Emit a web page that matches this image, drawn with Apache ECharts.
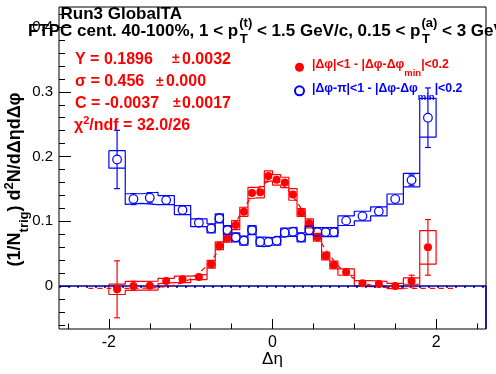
<!DOCTYPE html>
<html><head><meta charset="utf-8">
<script src="https://cdn.jsdelivr.net/npm/echarts@6/dist/echarts.min.js"></script>
<style>html,body{margin:0;padding:0;background:#fff}#c{width:496px;height:374px}</style>
</head><body><div id="c"></div>
<script>
// ---- data ----
const binEdges = [-2.0,-1.8,-1.6,-1.4,-1.2,-1.0,-0.8,-0.7,-0.6,-0.5,-0.4,-0.3,-0.2,-0.1,0.0,0.1,0.2,0.3,0.4,0.5,0.6,0.7,0.8,1.0,1.2,1.4,1.6,1.8,2.0];
const binCenters = [-1.9,-1.7,-1.5,-1.3,-1.1,-0.9,-0.75,-0.65,-0.55,-0.45,-0.35,-0.25,-0.15,-0.05,0.05,0.15,0.25,0.35,0.45,0.55,0.65,0.75,0.9,1.1,1.3,1.5,1.7,1.9];

const nearValues = [-0.0051,0.0002,0.0005,0.0077,0.0103,0.0139,0.0336,0.0622,0.0736,0.0941,0.1147,0.1435,0.1450,0.1700,0.1640,0.1600,0.1415,0.1137,0.0968,0.0752,0.0463,0.0324,0.0216,0.0042,0.0031,0.0000,0.0077,0.0597];
const nearStatErr = [0.044,0.007,0.006,0.005,0.005,0.005,0.004,0.004,0.004,0.004,0.004,0.004,0.004,0.004,0.004,0.004,0.004,0.004,0.004,0.004,0.004,0.004,0.005,0.005,0.005,0.005,0.009,0.043];
const nearSysErr = [0.008,0.007,0.007,0.004,0.005,0.004,0.006,0.006,0.006,0.007,0.007,0.009,0.009,0.008,0.008,0.008,0.009,0.006,0.007,0.006,0.006,0.006,0.005,0.004,0.004,0.004,0.005,0.026];

const awayValues = [0.1955,0.1343,0.1363,0.1327,0.1173,0.0977,0.0890,0.1045,0.0864,0.0752,0.0700,0.0864,0.0684,0.0679,0.0700,0.0823,0.0838,0.0752,0.0864,0.0833,0.0833,0.0833,0.1010,0.1080,0.1153,0.1343,0.1636,0.2600];
const awayStatErr = [0.045,0.0085,0.008,0.006,0.006,0.005,0.0045,0.0045,0.0045,0.0045,0.0045,0.0045,0.0045,0.0045,0.0045,0.0045,0.0045,0.0045,0.0045,0.0045,0.0045,0.0045,0.005,0.006,0.006,0.007,0.008,0.046];
const awaySysErr = [0.0135,0.0082,0.0085,0.007,0.007,0.006,0.007,0.007,0.007,0.007,0.007,0.007,0.007,0.007,0.007,0.007,0.007,0.007,0.007,0.007,0.007,0.007,0.0075,0.0075,0.007,0.0078,0.0104,0.030];

// red dashed fit curve
const fitX = [-2.25,-2.0,-1.8,-1.6,-1.5,-1.4,-1.3,-1.2,-1.1,-1.0,-0.9,-0.8,-0.7,-0.6,-0.5,-0.4,-0.3,-0.2,-0.1,0.0,0.1,0.2,0.3,0.4,0.5,0.6,0.7,0.8,0.9,1.0,1.1,1.2,1.3,1.4,1.5,1.6,1.8,2.0,2.25];
const fitY = [-0.0037,-0.0037,-0.0036,-0.0034,-0.0030,-0.0022,-0.0009,0.0015,0.0053,0.0113,0.0200,0.0319,0.0474,0.0661,0.0872,0.1092,0.1299,0.1470,0.1583,0.1622,0.1583,0.1470,0.1299,0.1092,0.0872,0.0661,0.0474,0.0319,0.0200,0.0113,0.0053,0.0015,-0.0009,-0.0022,-0.0030,-0.0034,-0.0036,-0.0037,-0.0037];
const awayFitLevel = -0.0012;

const xTickLabels = [-2, 0, 2];
const xMinorTicks = [-2.5,-1.5,-1,-0.5,0.5,1,1.5,2.5];
const yTickLabels = [0, 0.1, 0.2, 0.3, 0.4];
const yMinorTicks = [-0.06,-0.04,-0.02,0.02,0.04,0.06,0.08,0.12,0.14,0.16,0.18,0.22,0.24,0.26,0.28,0.32,0.34,0.36,0.38,0.42];

const nearName = 'near-side';
const awayName = 'away-side';

// ---- styling / layout ----
const F = '"Liberation Sans", Arial, Helvetica, sans-serif';
const bf = s => 'bold ' + s + 'px ' + F;
const nf = s => s + 'px ' + F;
const RED = '#ff0000', BLUE = '#0000ff', NAVY = '#00009c';
const XMIN = -2.61, XMAX = 2.61, YMIN = -0.0664, YMAX = 0.431;

const mctx = document.createElement('canvas').getContext('2d');
function tw(t, font) { mctx.font = font; return mctx.measureText(t).width; }

function sysOutline(vals, sys) {
  const up = [], lo = [];
  for (let i = 0; i < vals.length; i++) {
    up.push([binEdges[i], vals[i] + sys[i]], [binEdges[i + 1], vals[i] + sys[i]]);
    lo.push([binEdges[i], vals[i] - sys[i]], [binEdges[i + 1], vals[i] - sys[i]]);
  }
  return up.concat(lo.reverse(), [up[0]]);
}

function errBarSeries(vals, errs, color, r) {
  return {
    type: 'custom', z: 4, silent: true,
    data: binCenters.map((x, i) => [x, vals[i], errs[i]]),
    renderItem: function (params, api) {
      const x = api.value(0), y = api.value(1), e = api.value(2);
      const c = api.coord([x, y]), t = api.coord([x, y + e]), b = api.coord([x, y - e]);
      const kids = [];
      const st = { stroke: color, lineWidth: 1.2 };
      if (c[1] - t[1] > r + 0.5) {
        kids.push({ type: 'line', shape: { x1: c[0], y1: c[1] - r, x2: c[0], y2: t[1] }, style: st });
        kids.push({ type: 'line', shape: { x1: c[0] - 3, y1: t[1], x2: c[0] + 3, y2: t[1] }, style: st });
      }
      if (b[1] - c[1] > r + 0.5) {
        kids.push({ type: 'line', shape: { x1: c[0], y1: c[1] + r, x2: c[0], y2: b[1] }, style: st });
        kids.push({ type: 'line', shape: { x1: c[0] - 3, y1: b[1], x2: c[0] + 3, y2: b[1] }, style: st });
      }
      return { type: 'group', children: kids };
    }
  };
}

const graphics = [];
function addText(x, y, text, font, color, extra) {
  graphics.push(Object.assign({
    type: 'text', x: x, y: y, silent: true, z: 100,
    style: { text: text, font: font, fill: color, align: 'left', verticalAlign: 'middle' }
  }, extra || {}));
}

// header
addText(60.5, 14.5, 'Run3 GlobalTA', bf(17), '#000');
(function () {
  const mainF = bf(17), ssF = bf(13);
  const parts = [['FTPC cent. 40-100%, 1 < p', ['(t)', 'T']], [' < 1.5 GeV/c, 0.15 < p', ['(a)', 'T']], [' < 3 GeV/c', null]];
  let x = 28;
  parts.forEach(p => {
    addText(x, 31.7, p[0], mainF, '#000');
    x += tw(p[0], mainF);
    if (p[1]) {
      addText(x + 1, 23, p[1][0], ssF, '#000');
      addText(x + 1.5, 39.3, p[1][1], ssF, '#000');
      x += 1 + Math.max(tw(p[1][0], ssF), tw(p[1][1], ssF));
    }
  });
})();

// fit results
const fitF = bf(16), pmF = bf(14);
addText(75, 59.5, 'Y = 0.1896', fitF, RED); addText(172, 59.5, '±', pmF, RED); addText(182, 59.5, '0.0032', fitF, RED);
addText(75, 81.7, 'σ = 0.456', fitF, RED); addText(156, 81.7, '±', pmF, RED); addText(166, 81.7, '0.000', fitF, RED);
addText(75, 103.3, 'C = -0.0037', fitF, RED); addText(173, 103.3, '±', pmF, RED); addText(182, 103.3, '0.0017', fitF, RED);
graphics.push({
  type: 'text', x: 74, y: 126, silent: true, z: 100,
  style: {
    text: '{a|χ}{s|2}{a|/ndf = 32.0/26}', fill: RED, align: 'left', verticalAlign: 'middle',
    rich: { a: { font: fitF, fill: RED, lineHeight: 17 }, s: { font: bf(11), fill: RED, lineHeight: 11, padding: [0, 0, 10, 0] } }
  }
});

// axis titles
graphics.push({
  type: 'text', x: 15.5, y: 179.5, rotation: Math.PI / 2, silent: true, z: 100,
  style: {
    text: '{a|(1/N}{b|trig}{a|) d}{c|2}{a|N/dΔηdΔφ}', fill: '#000', align: 'center', verticalAlign: 'middle',
    rich: {
      a: { font: bf(18), fill: '#000', lineHeight: 19 },
      b: { font: bf(13), fill: '#000', lineHeight: 13, padding: [18, 0, 0, 0] },
      c: { font: bf(13), fill: '#000', lineHeight: 13, padding: [0, 0, 12, 0] }
    }
  }
});
graphics.push({
  type: 'text', x: 272.5, y: 359, silent: true, z: 100,
  style: { text: 'Δη', font: nf(17), fill: '#000', align: 'center', verticalAlign: 'middle' }
});

const chart = echarts.init(document.getElementById('c'), null, { renderer: 'canvas' });
chart.setOption({
  animation: false,
  backgroundColor: '#fff',
  grid: { left: 59, right: 10, top: 7, bottom: 45, show: true, borderColor: '#000', borderWidth: 1, containLabel: false },
  xAxis: [
    {
      type: 'value', position: 'bottom', min: XMIN, max: XMAX,
      axisLine: { show: false, onZero: false }, splitLine: { show: false },
      axisTick: { show: true, inside: true, length: 10, customValues: xTickLabels, lineStyle: { color: '#000', width: 1 } },
      axisLabel: { show: true, customValues: xTickLabels, margin: 6, color: '#000', fontSize: 16, fontFamily: F }
    },
    {
      type: 'value', position: 'bottom', min: XMIN, max: XMAX,
      axisLine: { show: false, onZero: false }, splitLine: { show: false }, axisLabel: { show: false },
      axisTick: { show: true, inside: true, length: 5.5, customValues: xMinorTicks, lineStyle: { color: '#000', width: 1 } }
    }
  ],
  yAxis: [
    {
      type: 'value', position: 'left', min: YMIN, max: YMAX,
      axisLine: { show: false, onZero: false }, splitLine: { show: false },
      axisTick: { show: true, inside: true, length: 12, customValues: yTickLabels, lineStyle: { color: '#000', width: 1 } },
      axisLabel: { show: true, customValues: yTickLabels, margin: 6, color: '#000', fontSize: 15, fontFamily: F }
    },
    {
      type: 'value', position: 'left', min: YMIN, max: YMAX,
      axisLine: { show: false, onZero: false }, splitLine: { show: false }, axisLabel: { show: false },
      axisTick: { show: true, inside: true, length: 6, customValues: yMinorTicks, lineStyle: { color: '#000', width: 1 } }
    }
  ],
  legend: {
    orient: 'vertical', left: 294, top: 55.7, padding: 0, itemGap: 0.6,
    itemWidth: 9, itemHeight: 9, selectedMode: false,
    data: [
      { name: nearName, textStyle: { color: RED } },
      { name: awayName, textStyle: { color: BLUE } }
    ],
    formatter: function (name) {
      return name === nearName
        ? '{m0||Δφ|<1 - |Δφ-Δφ}{s|min}{m||<0.2}'
        : '{m0||Δφ-π|<1 - |Δφ-Δφ}{s|min}{m||<0.2}';
    },
    textStyle: {
      fontSize: 12.3, fontWeight: 'bold', fontFamily: F,
      rich: {
        m0: { fontSize: 12.3, fontWeight: 'bold', fontFamily: F, lineHeight: 14, padding: [0, 0, 5, 3] },
        m: { fontSize: 12.3, fontWeight: 'bold', fontFamily: F, lineHeight: 14, padding: [0, 0, 5, 0] },
        s: { fontSize: 9.5, fontWeight: 'bold', fontFamily: F, lineHeight: 10, padding: [13, 0, 0, 0] }
      }
    }
  },
  series: [
    {
      type: 'line', name: 'near-sys', data: sysOutline(nearValues, nearSysErr), showSymbol: false, silent: true, z: 2,
      lineStyle: { color: RED, width: 1.2 }
    },
    {
      type: 'line', name: 'away-sys', data: sysOutline(awayValues, awaySysErr), showSymbol: false, silent: true, z: 2,
      lineStyle: { color: BLUE, width: 1.2 }
    },
    {
      type: 'line', name: 'zero', data: [[XMIN, 0], [XMAX, 0], [XMAX, YMIN]], showSymbol: false, silent: true, z: 3, clip: false,
      lineStyle: { color: NAVY, width: 1.5 }
    },
    {
      type: 'line', name: 'away-fit', data: [[XMIN, awayFitLevel], [XMAX, awayFitLevel]], showSymbol: false, silent: true, z: 3,
      lineStyle: { color: NAVY, width: 2, type: [2, 7] }
    },
    {
      type: 'line', name: 'near-fit', data: fitX.map((x, i) => [x, fitY[i]]), showSymbol: false, silent: true, z: 3, smooth: 0.3,
      lineStyle: { color: RED, width: 1.2, type: [5, 4] }
    },
    errBarSeries(nearValues, nearStatErr, RED, 4),
    errBarSeries(awayValues, awayStatErr, BLUE, 4.3),
    {
      type: 'scatter', name: nearName, data: binCenters.map((x, i) => [x, nearValues[i]]), z: 6,
      symbol: 'circle', symbolSize: 8, itemStyle: { color: RED, opacity: 1 }
    },
    {
      type: 'scatter', name: awayName, data: binCenters.map((x, i) => [x, awayValues[i]]), z: 6,
      symbol: 'circle', symbolSize: 8.6, itemStyle: { color: 'rgba(255,255,255,0)', borderColor: BLUE, borderWidth: 1.2, opacity: 1 }
    }
  ],
  graphic: graphics
});
</script>
</body></html>
